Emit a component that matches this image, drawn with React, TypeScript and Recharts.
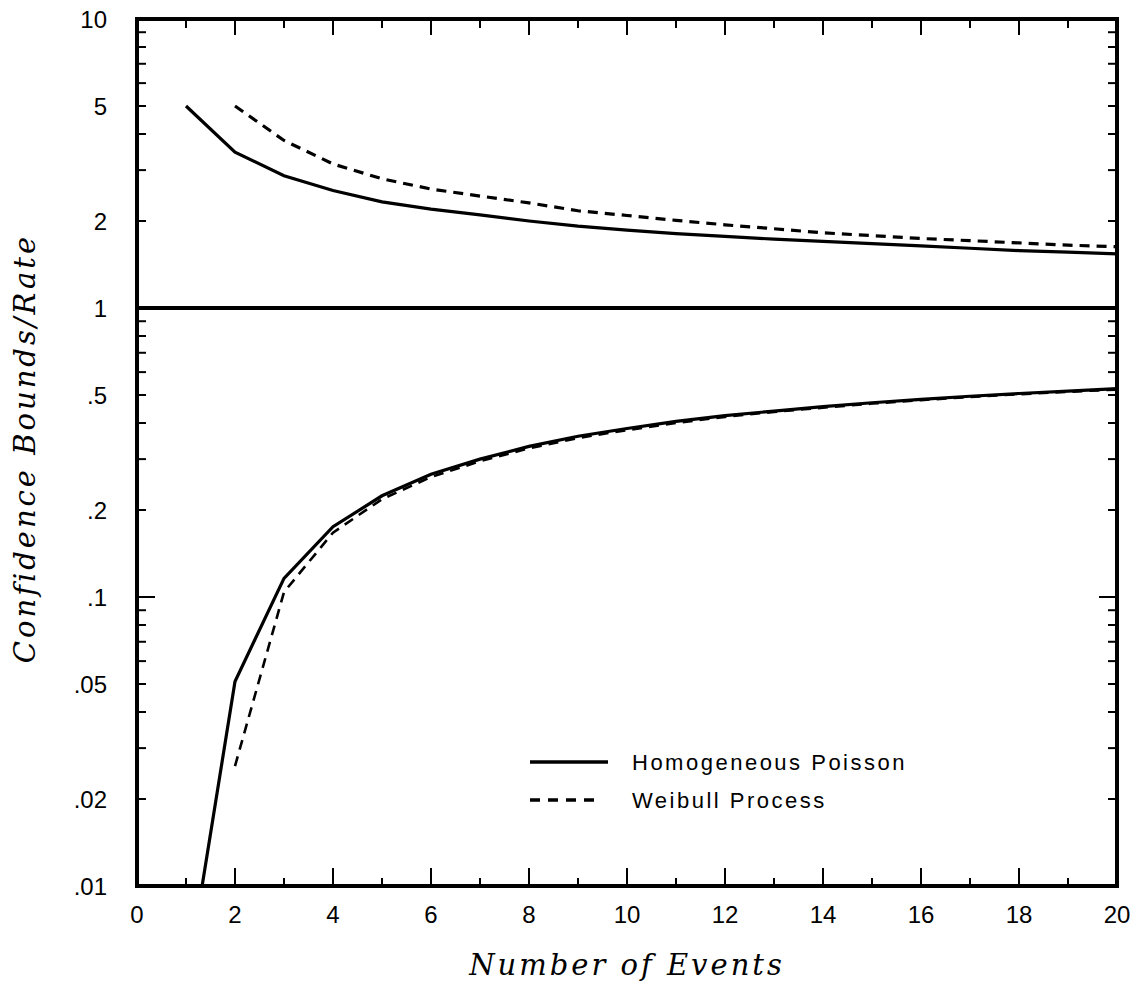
import React from 'react';
import { LineChart, Line, XAxis, YAxis, ReferenceLine, Legend, Label } from 'recharts';

// Number of events (x)
const events = [1, 2, 3, 4, 5, 6, 7, 8, 9, 10, 11, 12, 13, 14, 15, 16, 17, 18, 19, 20];

// Confidence bound / rate values
const poissonUpper = [5.0, 3.46, 2.87, 2.55, 2.33, 2.2, 2.1, 2.0, 1.92, 1.86, 1.81, 1.77, 1.73, 1.7, 1.67, 1.64, 1.61, 1.58, 1.56, 1.54];
const poissonLower = [0.0045, 0.051, 0.116, 0.175, 0.224, 0.266, 0.3, 0.332, 0.36, 0.383, 0.405, 0.424, 0.44, 0.456, 0.47, 0.483, 0.495, 0.506, 0.516, 0.526];
const weibullUpper = [null, 5.0, 3.8, 3.15, 2.8, 2.58, 2.44, 2.31, 2.17, 2.09, 2.01, 1.94, 1.88, 1.82, 1.78, 1.74, 1.71, 1.68, 1.65, 1.63];
const weibullLower = [null, 0.026, 0.104, 0.167, 0.218, 0.26, 0.295, 0.327, 0.355, 0.378, 0.4, 0.42, 0.437, 0.452, 0.467, 0.48, 0.492, 0.503, 0.513, 0.522];

// Axis ticks
const xTicks = [0, 1, 2, 3, 4, 5, 6, 7, 8, 9, 10, 11, 12, 13, 14, 15, 16, 17, 18, 19, 20];
const xLabelTicks = [0, 2, 4, 6, 8, 10, 12, 14, 16, 18, 20];
const yTicks = [
  0.01, 0.02, 0.03, 0.04, 0.05, 0.06, 0.07, 0.08, 0.09,
  0.1, 0.2, 0.3, 0.4, 0.5, 0.6, 0.7, 0.8, 0.9,
  1, 2, 3, 4, 5, 6, 7, 8, 9, 10,
];
const yLabelValues = [0.01, 0.02, 0.05, 0.1, 0.2, 0.5, 1, 2, 5, 10];
const yLabelTexts = ['.01', '.02', '.05', '.1', '.2', '.5', '1', '2', '5', '10'];

const data = events.map((n, i) => ({
  n,
  poissonUpper: poissonUpper[i],
  poissonLower: poissonLower[i],
  weibullUpper: weibullUpper[i],
  weibullLower: weibullLower[i],
}));

const TICK_FONT = '"Liberation Sans", Arial, Helvetica, sans-serif';
const TITLE_FONT = '"DejaVu Serif", "Liberation Serif", serif';

const isDecade = (v: number) => Math.abs(Math.log10(v) - Math.round(Math.log10(v))) < 1e-6;
const yLabelFor = (v: number) => {
  const idx = yLabelValues.findIndex((u) => Math.abs(u - v) < 1e-9);
  return idx >= 0 ? yLabelTexts[idx] : null;
};

const LeftTick = (props: any) => {
  const { x, y, payload } = props;
  const v = payload.value;
  const len = isDecade(v) ? 18 : 9;
  const label = yLabelFor(v);
  return (
    <g>
      <line x1={x} y1={y} x2={x + len} y2={y} stroke="#000" strokeWidth={2} />
      {label && (
        <text x={x - 30} y={y} dy="0.36em" textAnchor="end" fontFamily={TICK_FONT} fontSize={24} fill="#000">
          {label}
        </text>
      )}
    </g>
  );
};

const RightTick = (props: any) => {
  const { x, y, payload } = props;
  const len = isDecade(payload.value) ? 18 : 9;
  return <line x1={x} y1={y} x2={x - len} y2={y} stroke="#000" strokeWidth={2} />;
};

const BottomTick = (props: any) => {
  const { x, y, payload } = props;
  const v = payload.value;
  const major = xLabelTicks.includes(v);
  const len = major ? 18 : 8;
  return (
    <g>
      <line x1={x} y1={y} x2={x} y2={y - len} stroke="#000" strokeWidth={2} />
      {major && (
        <text x={x} y={y + 37} textAnchor="middle" fontFamily={TICK_FONT} fontSize={24} fill="#000">
          {String(v)}
        </text>
      )}
    </g>
  );
};

const TopTick = (props: any) => {
  const { x, y, payload } = props;
  const len = xLabelTicks.includes(payload.value) ? 16 : 9;
  return <line x1={x} y1={y} x2={x} y2={y + len} stroke="#000" strokeWidth={2} />;
};

const YTitle = (props: any) => {
  const vb = props.viewBox;
  const cx = vb.x + 35;
  const cy = vb.y + vb.height / 2 - 4;
  return (
    <text
      x={cx}
      y={cy}
      transform={`rotate(-90 ${cx} ${cy})`}
      textAnchor="middle"
      fontFamily={TITLE_FONT}
      fontStyle="italic"
      fontSize={29}
      letterSpacing={3}
      fill="#000"
    >
      Confidence Bounds/Rate
    </text>
  );
};

const XTitle = (props: any) => {
  const vb = props.viewBox;
  return (
    <text
      x={vb.x + vb.width / 2}
      y={vb.y + 89}
      textAnchor="middle"
      fontFamily={TITLE_FONT}
      fontStyle="italic"
      fontSize={29}
      letterSpacing={3}
      fill="#000"
    >
      Number of Events
    </text>
  );
};

const LegendContent = (props: any) => {
  const items = (props.payload || []).filter(
    (p: any) => p.dataKey === 'poissonUpper' || p.dataKey === 'weibullUpper'
  );
  return (
    <svg width={440} height={80} style={{ display: 'block' }}>
      {items.map((item: any, i: number) => {
        const cy = 22 + i * 38;
        return (
          <g key={item.dataKey}>
            <line
              x1={10}
              y1={cy}
              x2={i === 0 ? 88 : 82}
              y2={cy}
              stroke="#000"
              strokeWidth={3.5}
              strokeDasharray={i === 0 ? undefined : '10 8'}
            />
            <text x={112} y={cy + 8} fontFamily={TICK_FONT} fontSize={22} letterSpacing={2.5} fill="#000">
              {item.value}
            </text>
          </g>
        );
      })}
    </svg>
  );
};

const axisLineStyle = { stroke: '#000', strokeWidth: 4, strokeLinecap: 'square' as const };

export default function App() {
  return (
    <div style={{ position: 'absolute', left: 0, top: 0, width: 1139, height: 988, background: '#fff' }}>
      <LineChart width={1139} height={988} data={data} margin={{ top: 0, right: 0, bottom: 0, left: 0 }}>
        <XAxis
          dataKey="n"
          type="number"
          domain={[0, 20]}
          ticks={xTicks}
          interval={0}
          height={102}
          tickSize={0}
          tickMargin={0}
          tickLine={false}
          axisLine={axisLineStyle}
          tick={<BottomTick />}
          label={<Label content={XTitle} />}
        />
        <XAxis
          xAxisId="top"
          orientation="top"
          dataKey="n"
          type="number"
          domain={[0, 20]}
          ticks={xTicks}
          interval={0}
          height={19}
          tickSize={0}
          tickMargin={0}
          tickLine={false}
          axisLine={axisLineStyle}
          tick={<TopTick />}
        />
        <YAxis
          type="number"
          scale="log"
          domain={[0.01, 10]}
          allowDataOverflow
          ticks={yTicks}
          interval={0}
          width={137}
          tickSize={0}
          tickMargin={0}
          tickLine={false}
          axisLine={axisLineStyle}
          tick={<LeftTick />}
          label={<Label content={YTitle} />}
        />
        <YAxis
          yAxisId="right"
          orientation="right"
          type="number"
          scale="log"
          domain={[0.01, 10]}
          allowDataOverflow
          ticks={yTicks}
          interval={0}
          width={22}
          tickSize={0}
          tickMargin={0}
          tickLine={false}
          axisLine={axisLineStyle}
          tick={<RightTick />}
        />
        <ReferenceLine y={1} stroke="#000" strokeWidth={4} />
        <Line
          dataKey="poissonUpper"
          name="Homogeneous Poisson"
          stroke="#000"
          strokeWidth={3.2}
          dot={false}
          isAnimationActive={false}
        />
        <Line
          dataKey="poissonLower"
          name="Homogeneous Poisson (lower)"
          legendType="none"
          stroke="#000"
          strokeWidth={3.2}
          dot={false}
          isAnimationActive={false}
        />
        <Line
          dataKey="weibullUpper"
          name="Weibull Process"
          stroke="#000"
          strokeWidth={3.2}
          strokeDasharray="10 7"
          dot={false}
          isAnimationActive={false}
        />
        <Line
          dataKey="weibullLower"
          name="Weibull Process (lower)"
          legendType="none"
          stroke="#000"
          strokeWidth={2.6}
          strokeDasharray="10 7"
          dot={false}
          isAnimationActive={false}
        />
        <Legend
          layout="horizontal"
          verticalAlign="middle"
          align="center"
          content={<LegendContent />}
          wrapperStyle={{ position: 'absolute', left: 520, top: 740, width: 440, height: 80 }}
        />
      </LineChart>
    </div>
  );
}
